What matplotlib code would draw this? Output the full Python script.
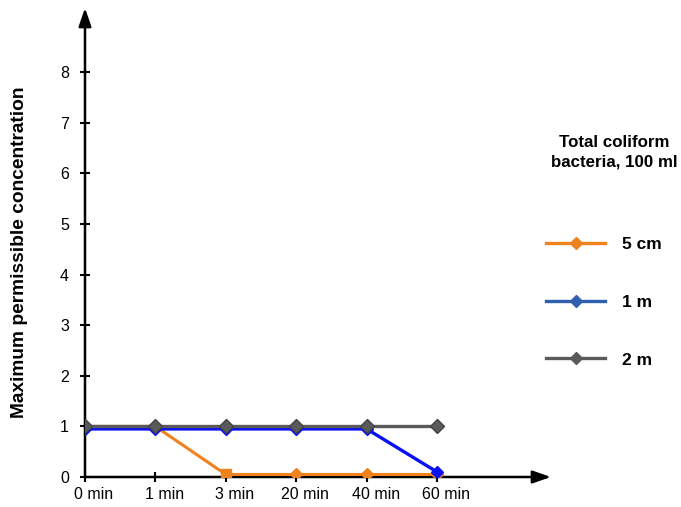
import matplotlib.pyplot as plt
import matplotlib.transforms as mtransforms
from matplotlib.lines import Line2D

plt.rcParams['font.family'] = ['Liberation Sans', 'DejaVu Sans']

# data
times = ['0 min', '1 min', '3 min', '20 min', '40 min', '60 min']
cm5 = [1.0, 1.0, 0.05, 0.05, 0.05, 0.05]
m1 = [0.95, 0.95, 0.95, 0.95, 0.95, 0.1]
m2 = [1.0, 1.0, 1.0, 1.0, 1.0, 1.0]
yticks = [0, 1, 2, 3, 4, 5, 6, 7, 8]

orange = '#F0821E'
blue = '#0A10F5'
blue_leg = '#2F5FAE'
grey = '#5A5A5A'

fig = plt.figure(figsize=(6.81, 5.07), dpi=100)
ax = fig.add_axes([85 / 681, 30 / 507, 466 / 681, 469 / 507])

x = list(range(len(times)))
ax.plot(x, cm5, color=orange, lw=2.2, marker='D', ms=6.5, mec=orange, markevery=[0, 1, 3, 4, 5], zorder=3)
ax.plot(x, cm5, color=orange, lw=0, marker='s', ms=6.5, markevery=[2], zorder=3)
ax.plot(x, m1, color=blue, lw=2.4, marker='D', ms=6.5, mec=blue, zorder=4)
ax.plot(x, m2, color=grey, lw=2.4, marker='D', ms=7.5, mec='#444444', zorder=5)

ax.set_xlim(0, 466 / 70.4)
ax.set_ylim(0, 469 / 50.6)

for s in ax.spines.values():
    s.set_visible(False)

# axes with arrow heads
arrow = dict(arrowstyle='-|>,head_length=1.1,head_width=0.38', color='black', lw=1.8,
             shrinkA=0, shrinkB=0)
ax.annotate('', xy=(1, 0), xytext=(0, 0), xycoords='axes fraction', arrowprops=arrow, zorder=2)
ax.annotate('', xy=(0, 1), xytext=(0, 0), xycoords='axes fraction', arrowprops=arrow, zorder=2)

ax.set_xticks(x)
ax.set_xticklabels(times, fontsize=11.5)
ax.set_yticks(yticks)
ax.set_yticklabels([str(v) for v in yticks], fontsize=11.5)
ax.tick_params(axis='both', direction='inout', length=7, width=1.5, color='black')
ax.tick_params(axis='y', pad=8)
ax.tick_params(axis='x', pad=4)
offset = mtransforms.ScaledTranslation(9 / 100, 0, fig.dpi_scale_trans)
for lab in ax.get_xticklabels():
    lab.set_transform(lab.get_transform() + offset)

fig.text(20 / 681, 1 - 252 / 507, 'Maximum permissible concentration', rotation=90,
         fontsize=13.8, fontweight='bold', ha='center', va='center')

# legend on the right
fig.text(614 / 681, 1 - 152 / 507, 'Total coliform\nbacteria, 100 ml', fontsize=12.2,
         fontweight='bold', ha='center', va='center', linespacing=1.4)
handles = [
    Line2D([], [], color=orange, lw=2.4, marker='D', ms=6),
    Line2D([], [], color=blue_leg, lw=2.4, marker='D', ms=6),
    Line2D([], [], color=grey, lw=2.4, marker='D', ms=6),
]
leg = fig.legend(handles, ['5 cm', '1 m', '2 m'], loc='upper left',
                 bbox_to_anchor=(546 / 681, 1 - 237 / 507), frameon=False,
                 prop={'weight': 'bold', 'size': 12.5}, handlelength=3.4,
                 handletextpad=1.0, labelspacing=2.45, borderpad=0, borderaxespad=0)

fig.savefig('out.png', dpi=100)
